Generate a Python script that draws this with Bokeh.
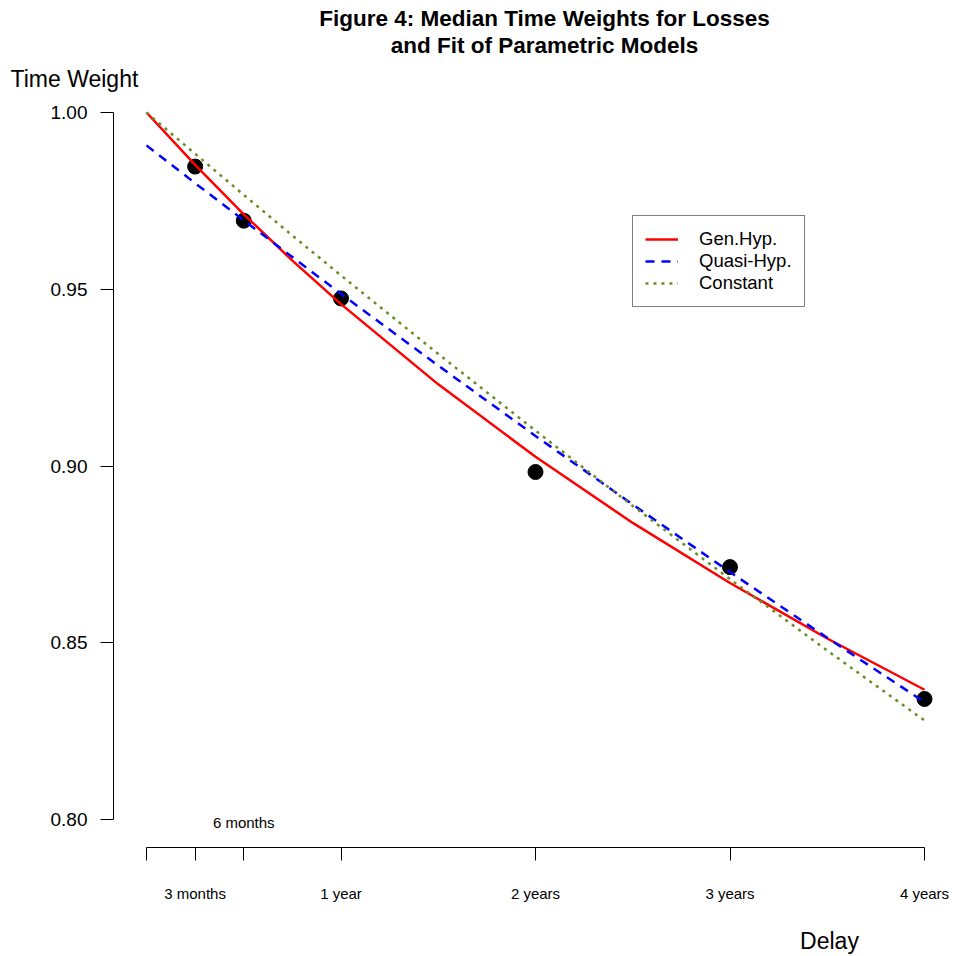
from bokeh.plotting import figure
from bokeh.layouts import column
from bokeh.models import Range1d, FixedTicker, NumeralTickFormatter, Label, Legend, LegendItem
from bokeh.core.properties import value
from bokeh.embed import file_html
from bokeh.resources import INLINE

# ---- data ----
delay_years = [0.25, 0.5, 1, 2, 3, 4]
median_weight = [0.9847, 0.9694, 0.9474, 0.8983, 0.8714, 0.8341]

curve_t = [0, 0.25, 0.5, 0.75, 1, 1.5, 2, 2.5, 3, 3.5, 4]
gen_hyp = [1.0, 0.9852, 0.9712, 0.9581, 0.9458, 0.9231, 0.9026, 0.8839, 0.8669, 0.8512, 0.8367]
quasi_hyp = [0.9907, 0.9800, 0.9695, 0.9591, 0.9487, 0.9284, 0.9085, 0.8891, 0.8700, 0.8514, 0.8332]
constant = [1.0, 0.9883, 0.9767, 0.9652, 0.9539, 0.9317, 0.9100, 0.8887, 0.8680, 0.8478, 0.8280]

x_ticks = [0, 0.25, 0.5, 1, 2, 3, 4]
x_tick_labels = ["", "3 months", "", "1 year", "2 years", "3 years", "4 years"]
y_ticks = [0.80, 0.85, 0.90, 0.95, 1.00]

title_lines = ["Figure 4: Median Time Weights for Losses", "and Fit of Parametric Models"]
y_title = "Time Weight"
x_title = "Delay"
series_names = ["Gen.Hyp.", "Quasi-Hyp.", "Constant"]

FONT = "Liberation Sans"
W = 955
TOP_H, BOT_H = 96, 46
MAIN_H = 956 - TOP_H - BOT_H
PXX = 194.5            # pixels per year
PXY = 3535.0           # pixels per unit of weight
X0_PX, Y1_PX = 146, 112  # page pixel of x=0 and y=1.0
FRAME_L, FRAME_B = 113, 847


def strip(height):
    f = figure(width=W, height=height, output_backend="svg", toolbar_location=None,
               title=None, x_axis_type=None, y_axis_type=None,
               x_range=Range1d(0, W), y_range=Range1d(height, 0), min_border=0,
               frame_align=False)
    f.outline_line_color = None
    f.xgrid.visible = False
    f.ygrid.visible = False
    return f

# ---- title strip ----
top = strip(TOP_H)
top.text(x=[544, 544], y=[18, 45], text=title_lines, text_font=value(FONT),
         text_font_size="22.5px", text_font_style="bold", text_align="center",
         text_baseline="middle", text_color="black")
top.text(x=[10], y=[78], text=[y_title], text_font=value(FONT), text_font_size="23px",
         text_align="left", text_baseline="middle", text_color="black")

# ---- main plot ----
y_top = 1 + (Y1_PX - TOP_H) / PXY
y_bot = 1 - (FRAME_B - Y1_PX) / PXY
x_left = (FRAME_L - X0_PX) / PXX
x_right = x_left + (W - FRAME_L) / PXX

p = figure(width=W, height=MAIN_H, output_backend="svg", toolbar_location=None, title=None,
           x_range=Range1d(x_left, x_right), y_range=Range1d(y_bot, y_top),
           min_border_left=FRAME_L, min_border_right=0, min_border_top=0,
           min_border_bottom=MAIN_H - (FRAME_B - TOP_H), frame_align=False)
p.outline_line_color = None
p.xgrid.visible = False
p.ygrid.visible = False

for ax in (p.xaxis[0], p.yaxis[0]):
    ax.major_tick_out = 13
    ax.major_tick_in = 0
    ax.minor_tick_out = 0
    ax.minor_tick_in = 0
    ax.axis_line_color = "black"
    ax.major_tick_line_color = "black"
    ax.major_label_text_font = FONT
    ax.major_label_text_color = "black"

p.xaxis.ticker = FixedTicker(ticks=x_ticks)
p.xaxis.major_label_overrides = {float(k): v for k, v in zip(x_ticks, x_tick_labels)}
p.xaxis.bounds = (0, 4)
p.xaxis.major_label_text_font_size = "15px"
p.xaxis.major_label_standoff = 24

p.yaxis.ticker = FixedTicker(ticks=y_ticks)
p.yaxis.formatter = NumeralTickFormatter(format="0.00")
p.yaxis.bounds = (0.8, 1.0)
p.yaxis.major_label_text_font_size = "19px"
p.yaxis.major_label_standoff = 13

# points first, lines over them
p.scatter(delay_years, median_weight, size=15, color="black")
r1 = p.line(curve_t, gen_hyp, line_color="#FF0000", line_width=2.5)
r2 = p.line(curve_t, quasi_hyp, line_color="#0000FF", line_width=2.5, line_dash="9 7")
r3 = p.line(curve_t, constant, line_color="#6B8E23", line_width=2.5, line_dash="3 5")

legend = Legend(items=[LegendItem(label=series_names[0], renderers=[r1]),
                       LegendItem(label=series_names[1], renderers=[r2]),
                       LegendItem(label=series_names[2], renderers=[r3])],
                location=(519, 540), orientation="vertical",
                glyph_width=33, glyph_height=22, label_height=22, spacing=0,
                padding=12, label_standoff=21, margin=0,
                label_text_font=FONT, label_text_font_size="18.5px",
                label_text_color="black",
                border_line_color="black", border_line_width=1,
                background_fill_color="white", background_fill_alpha=1)
p.add_layout(legend)

p.add_layout(Label(x=0.5, y=1 - (822 - Y1_PX) / PXY, text="6 months", text_font=FONT,
                   text_font_size="15px", text_align="center", text_baseline="middle",
                   text_color="black"))

# ---- bottom strip with the x title ----
bot = strip(BOT_H)
bot.text(x=[829], y=[30], text=[x_title], text_font=value(FONT), text_font_size="23px",
         text_align="center", text_baseline="middle", text_color="black")

layout = column(top, p, bot, spacing=0)
open("out.html", "w").write(file_html(layout, INLINE))
